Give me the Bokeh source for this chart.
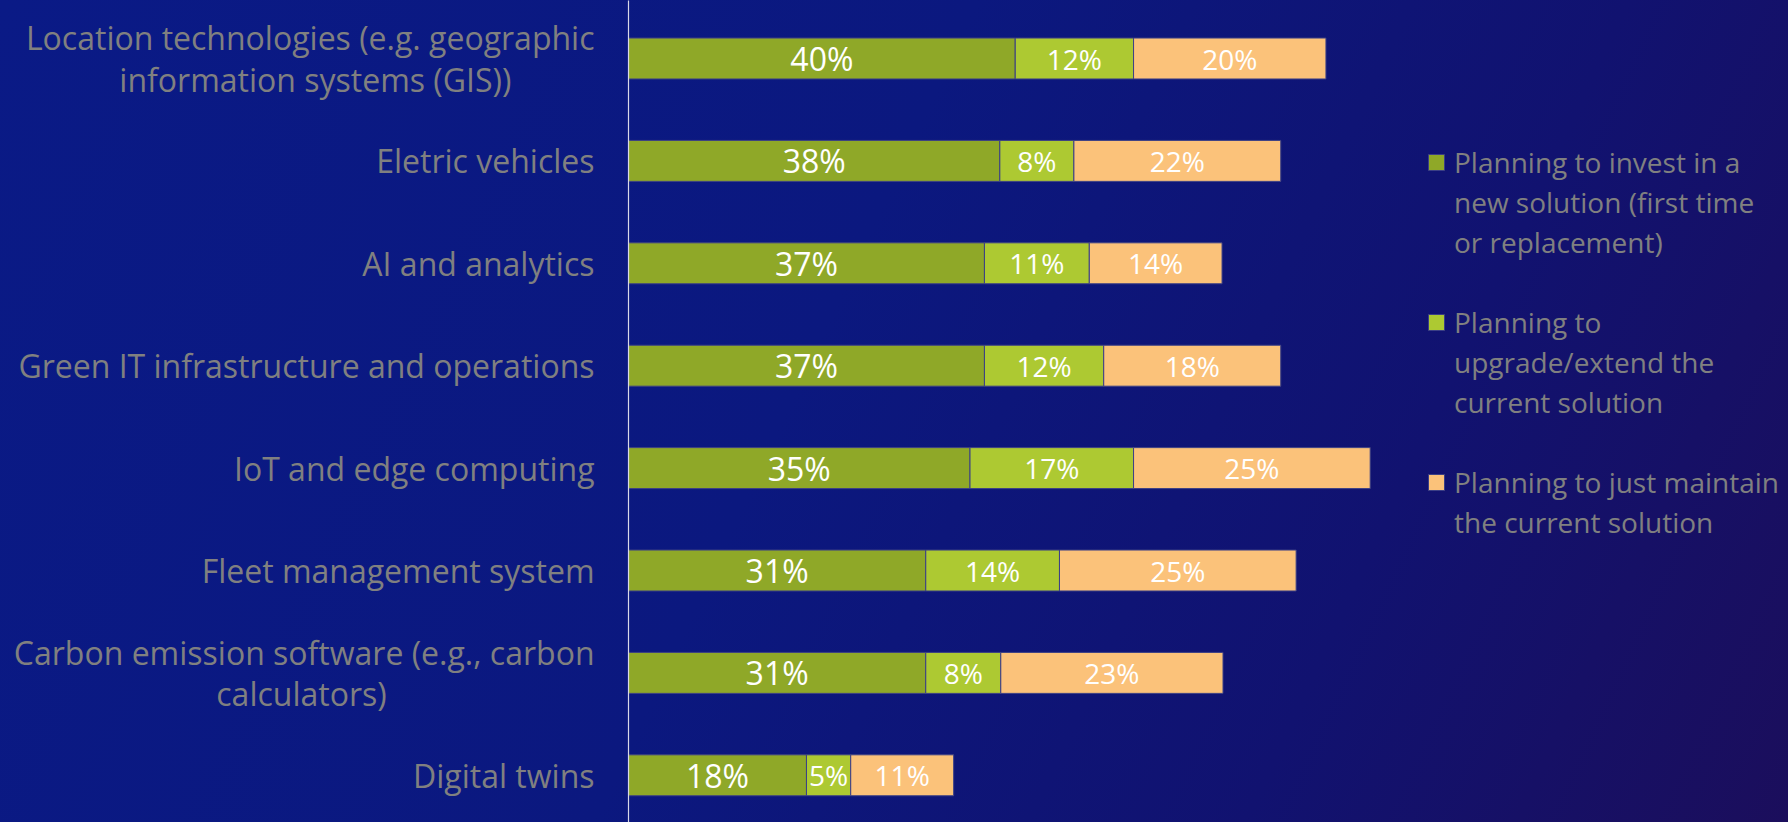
import numpy as np
from bokeh.plotting import figure
from bokeh.models import Range1d, FixedTicker, ColumnDataSource, Legend, LegendItem
from bokeh.core.properties import value
from bokeh.embed import file_html
from bokeh.resources import INLINE

NB = "\u00a0"
categories = [
    "Location technologies (e.g. geographic\ninformation systems (GIS))" + NB * 10,
    "Eletric vehicles",
    "AI and analytics",
    "Green IT infrastructure and operations",
    "IoT and edge computing",
    "Fleet management system",
    "Carbon emission software (e.g., carbon\ncalculators)" + NB * 25,
    "Digital twins",
]
invest_new = [40.2, 38.6, 37.0, 37.0, 35.5, 30.9, 30.9, 18.5]
upgrade = [12.3, 7.7, 10.9, 12.4, 17.0, 13.9, 7.8, 4.6]
maintain = [20.0, 21.5, 13.8, 18.4, 24.6, 24.6, 23.1, 10.7]
invest_labels = ["40%", "38%", "37%", "37%", "35%", "31%", "31%", "18%"]
upgrade_labels = ["12%", "8%", "11%", "12%", "17%", "14%", "8%", "5%"]
maintain_labels = ["20%", "22%", "14%", "18%", "25%", "25%", "23%", "11%"]
series_names = [
    "Planning to invest in a\nnew solution (first time\nor replacement)",
    "Planning to\nupgrade/extend the\ncurrent solution",
    "Planning to just maintain\nthe current solution",
]
colors = ["#8fa828", "#adc932", "#fbc27a"]

FONT = "Open Sans"
W, H = 1788, 822
LEFT = 628
ROW0 = 58
ROW_PX = 102.4
PX_PER_PCT = 9.62

ys = list(range(len(categories)))
y_top = -ROW0 / ROW_PX
y_bot = (H - ROW0) / ROW_PX
x_max = (W - LEFT) / PX_PER_PCT

p = figure(width=W, height=H, output_backend="svg", toolbar_location=None,
           x_range=Range1d(0, x_max), y_range=Range1d(y_bot, y_top),
           x_axis_location=None, min_border_left=LEFT, min_border_right=0,
           min_border_top=0, min_border_bottom=0)
p.background_fill_alpha = 0
p.border_fill_alpha = 0
p.outline_line_color = None
p.grid.visible = False
p.styles = {"background": "linear-gradient(115deg, #0a1a86 0%, #0b187f 45%, #111270 75%, #1b0e5c 100%)"}

vals = [np.array(invest_new), np.array(upgrade), np.array(maintain)]
labs = [invest_labels, upgrade_labels, maintain_labels]
left = np.zeros(len(categories))
renderers = []
for i, (v, col, lab) in enumerate(zip(vals, colors, labs)):
    right = left + v
    src = ColumnDataSource(dict(y=ys, left=left, right=right, mid=(left + right) / 2, lab=lab))
    r = p.hbar(y="y", left="left", right="right", height=0.4, source=src,
               fill_color=col, line_color="#3b3f86", line_width=1)
    renderers.append(r)
    p.text(x="mid", y="y", text="lab", source=src, text_align="center", text_baseline="middle",
           text_color="white", text_font=value(FONT),
           text_font_size="32px" if i == 0 else "28px")
    left = right

ax = p.yaxis[0]
ax.ticker = FixedTicker(ticks=ys)
ax.major_label_overrides = {i: c for i, c in enumerate(categories)}
ax.major_tick_line_color = None
ax.minor_tick_line_color = None
ax.major_tick_in = 0
ax.major_tick_out = 0
ax.major_label_standoff = 34
ax.major_label_text_font = FONT
ax.major_label_text_font_size = "32px"
ax.major_label_text_line_height = 0.96
ax.major_label_text_color = "#808080"
ax.major_label_text_align = "right"
ax.axis_line_color = "#d8d8e8"
ax.axis_line_width = 1.2

# Legend: one row per text line, the coloured square beside the first line of each entry
blank = p.hbar(y=[], left=[], right=[], height=0.4, fill_alpha=0, line_alpha=0)
items = []
for k, (name, r) in enumerate(zip(series_names, renderers)):
    lines = name.split("\n")
    items.append(LegendItem(label=lines[0], renderers=[r]))
    for ln in lines[1:]:
        items.append(LegendItem(label=ln, renderers=[blank]))
    if k < len(series_names) - 1:
        items.append(LegendItem(label=NB, renderers=[blank]))

ITEM_H = 37.8
SPACING = 2
legend_h = len(items) * ITEM_H + (len(items) - 1) * SPACING
legend_top = 164 - ITEM_H / 2
lg = Legend(items=items, location=(798, int(round(H - legend_top - legend_h))))
lg.background_fill_alpha = 0
lg.border_line_color = None
lg.padding = 0
lg.margin = 0
lg.spacing = SPACING
lg.glyph_width = 20
lg.glyph_height = 20
lg.label_standoff = 8
lg.label_text_font = FONT
lg.label_text_font_size = "28px"
lg.label_text_color = "#808080"
p.add_layout(lg, "center")

open("out.html", "w").write(file_html(p, INLINE))
